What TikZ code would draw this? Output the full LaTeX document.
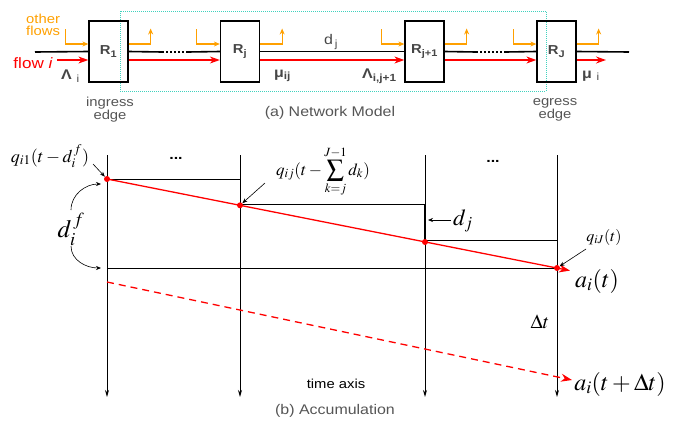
\documentclass[tikz,border=0pt]{standalone}
\usepackage{mathptmx}
\usepackage[no-math]{fontspec}
\setmainfont[FakeStretch=1.14]{Liberation Sans}
\usetikzlibrary{arrows.meta}
\definecolor{orng}{RGB}{255,160,0}
\definecolor{teal2}{RGB}{64,210,190}
\definecolor{gtxt}{RGB}{85,85,85}
\definecolor{rtxt}{RGB}{70,70,70}
\newcommand{\fs}[1]{\fontsize{#1}{#1}\selectfont}
\tikzset{
  router/.style={draw, line width=1.3pt, minimum width=39pt, minimum height=61pt, inner sep=0pt, font=\bfseries\fs{13}, text=rtxt},
  link/.style={line width=1.6pt},
  flowline/.style={red, line width=1.2pt, -{Stealth[length=10pt,width=7pt]}},
  other/.style={orng, line width=1.2pt, -{Stealth[length=6pt,width=5pt]}},
  caption/.style={text=gtxt, font=\fs{14}},
  lbl/.style={text=rtxt, font=\fs{14}},
  axis/.style={line width=1pt, -{Stealth[length=7pt,width=4pt]}},
  hline/.style={line width=0.9pt},
  pointer/.style={line width=0.6pt, -{Stealth[length=5pt,width=4pt]}},
  dot/.style={circle, fill=red, inner sep=0pt, minimum size=6pt},
  mlbl/.style={inner sep=0pt}
}
\begin{document}
\begin{tikzpicture}[x=1pt,y=-1pt]
\useasboundingbox (0,0) rectangle (673,426);
% ---------- (a) network model ----------
\draw[teal2, line width=1pt, densely dotted] (120,11) rectangle (546,91);
\node[router] (R1) at (108.5,51.5) {R\textsubscript{1}};
\node[router] (Rj) at (240,51.5) {R\textsubscript{j}};
\node[router] (Rk) at (424.5,51.5) {R\textsubscript{j+1}};
\node[router] (RJ) at (556.5,51.5) {R\textsubscript{J}};
\coordinate (in0) at (35,52);
\coordinate (out0) at (629,52);
\coordinate (d1a) at (162,52);
\coordinate (d1b) at (188,52);
\coordinate (d2a) at (476,52);
\coordinate (d2b) at (506,52);
\draw[link] (in0) -- (R1.west);
\draw[link] (R1.east) -- (d1a);
\draw[line width=1.6pt, dash pattern=on 1.6pt off 2.4pt] (d1a) -- (d1b);
\draw[link] (d1b) -- (Rj.west);
\draw[link] (Rj.east) -- (Rk.west);
\draw[link] (Rk.east) -- (d2a);
\draw[line width=1.6pt, dash pattern=on 1.6pt off 2.4pt] (d2a) -- (d2b);
\draw[link] (d2b) -- (RJ.west);
\draw[link] (RJ.east) -- (out0);
% red flow
\coordinate (fi) at (57,60);
\coordinate (fo) at (606,60);
\draw[flowline] (fi) -- ([yshift=-8.5pt]R1.west);
\draw[flowline] ([yshift=-8.5pt]R1.east) -- ([yshift=-8.5pt]Rj.west);
\draw[flowline] ([yshift=-8.5pt]Rj.east) -- ([yshift=-8.5pt]Rk.west);
\draw[flowline] ([yshift=-8.5pt]Rk.east) -- ([yshift=-8.5pt]RJ.west);
\draw[flowline] ([yshift=-8.5pt]RJ.east) -- (fo);
% other flows
\foreach \r in {R1,Rj,Rk,RJ}{
  \draw[other] ([xshift=-23pt,yshift=22.5pt]\r.west) -- ([xshift=-23pt,yshift=7.5pt]\r.west) -- ([yshift=7.5pt]\r.west);
  \draw[other] ([yshift=7.5pt]\r.east) -- ([xshift=22pt,yshift=7.5pt]\r.east) -- ([xshift=22pt,yshift=23pt]\r.east);
}
\node[orng, font=\fs{13}, align=left, anchor=west, inner sep=0pt] (of) at (26,25) {other\\[-0.5pt]flows};
\node[red, font=\fs{15}, anchor=east, inner sep=0pt] (fl) at (53,63) {flow \textit{i}};
\node[lbl, anchor=west, inner sep=0pt] (L1) at (61,76) {\textbf{Λ}\,\,\textsubscript{i}};
\node[lbl, anchor=west, inner sep=0pt] (mu1) at (274,76) {\textbf{μ\textsubscript{ij}}};
\node[lbl, anchor=west, inner sep=0pt] (L2) at (362,76) {\textbf{Λ\textsubscript{i,j+1}}};
\node[lbl, anchor=west, inner sep=0pt] (mu2) at (582,76) {\textbf{μ}\,\,\textsubscript{i}};
\node[lbl, anchor=west, inner sep=0pt] (dj) at (324,42) {d\textsubscript{\,j}};
\node[caption, font=\fs{13}, align=center, inner sep=0pt] (ing) at (110,110) {ingress\\[0pt]edge};
\node[caption, font=\fs{13}, align=center, inner sep=0pt] (eg) at (555,110) {egress\\[0pt]edge};
\node[caption, inner sep=0pt] (capa) at (330,113) {(a) Network Model};
% ---------- (b) accumulation ----------
\foreach \n/\x in {a/107,b/240,c/425,d/557}{
  \coordinate (t\n) at (\x,155);
  \coordinate (b\n) at (\x,397);
  \draw[axis] (t\n) -- (b\n);
}
\coordinate (h1a) at (107,179); \coordinate (h1b) at (240,179);
\coordinate (h2a) at (240,204.5); \coordinate (h2b) at (425,204.5);
\coordinate (h3a) at (425,240); \coordinate (h3b) at (557,240);
\coordinate (h4a) at (107,268); \coordinate (h4b) at (557,268);
\draw[hline] (h1a) -- (h1b);
\draw[hline] (h2a) -- (h2b);
\draw[line width=2pt] (h2b) -- (h3a);
\draw[hline] (h3a) -- (h3b);
\draw[hline] (h4a) -- (h4b);
\node[dot] (p1) at (107,179) {};
\node[dot] (p2) at (240,205.3) {};
\node[dot] (p3) at (425,242) {};
\node[dot] (p4) at (557,268) {};
\coordinate (pe) at (570,270.6);
\draw[red, line width=1.3pt, -{Stealth[length=11pt,width=8pt]}] (p1.center) -- (pe);
\coordinate (q1) at (107,282);
\coordinate (qe) at (572,380);
\draw[red, line width=1.3pt, dash pattern=on 7pt off 5pt, -{Stealth[length=11pt,width=8pt]}] (q1) -- (qe);
% labels
\node[mlbl, font=\fs{18}] (lq1) at (50,156) {$q_{i1}(t-d_i^{\,f})$};
\coordinate (lq1a) at (93,164);
\draw[pointer] (lq1a) -- (p1);
\node[font=\bfseries\fs{14}, inner sep=0pt] (dots1) at (176,158) {...};
\node[font=\bfseries\fs{14}, inner sep=0pt] (dots2) at (493,161) {...};
\node[mlbl, font=\fs{25}] (ldf) at (71,229) {$d_i^{\,f}$};
\coordinate (ca1) at (71,210); \coordinate (ca2) at (101,184);
\coordinate (cb1) at (71,246); \coordinate (cb2) at (101,268);
\draw[pointer] (ca1) to[out=90,in=180] (ca2);
\draw[pointer] (cb1) to[out=-90,in=180] (cb2);
\node[mlbl, font=\fs{17}] (lqj) at (323,172) {$q_{ij}(t-\displaystyle\sum_{k=j}^{J-1} d_k)$};
\coordinate (lqja) at (265,183);
\draw[pointer] (lqja) -- (p2);
\node[mlbl, font=\fs{23}] (ldj) at (463,221) {$d_j$};
\coordinate (ldja) at (451,220); \coordinate (ldjb) at (428,220);
\draw[pointer] (ldja) -- (ldjb);
\node[mlbl, font=\fs{16}] (lqJ) at (604,237) {$q_{iJ}(t)$};
\coordinate (lqJa) at (586,249);
\draw[pointer] (lqJa) -- (p4);
\node[mlbl, font=\fs{24}] (lat) at (597,281) {$a_i(t)$};
\node[mlbl, font=\fs{20}] (ldt) at (540,322) {$\Delta t$};
\node[mlbl, font=\fs{24}] (latd) at (620,384) {$a_i(t+\Delta t)$};
\node[inner sep=0pt, font=\fs{13}] (ta) at (336,384) {time axis};
\node[caption, inner sep=0pt] (capb) at (335,411) {(b) Accumulation};
\end{tikzpicture}
\end{document}
